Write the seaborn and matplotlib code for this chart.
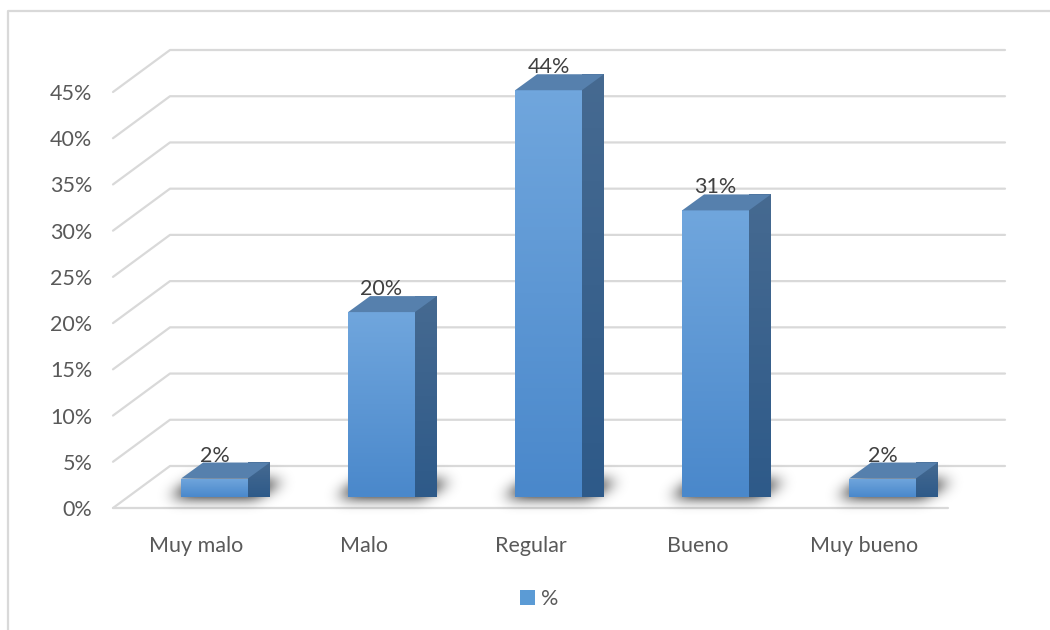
import numpy as np
import pandas as pd
import matplotlib
matplotlib.use("Agg")
import matplotlib.pyplot as plt
import seaborn as sns
from matplotlib.transforms import ScaledTranslation, IdentityTransform
from matplotlib.patches import Polygon, Rectangle
from matplotlib.lines import Line2D
from matplotlib.path import Path
from matplotlib.colors import LinearSegmentedColormap

# --- data -------------------------------------------------------------
categories = ["Muy malo", "Malo", "Regular", "Bueno", "Muy bueno"]
percentages = [2, 20, 44, 31, 2]
tick_values = [0, 5, 10, 15, 20, 25, 30, 35, 40, 45]
tick_labels = [f"{v}%" for v in tick_values]
series_label = "%"

# --- style ------------------------------------------------------------
W, H, DPI = 1050, 630, 100
WALL_DEPTH = (57, 42)   # pixel offset from front plane to back wall
BAR_FRONT = (18, 11)    # pixel offset of the bars' front faces
BAR_DEPTH = (22, 16)    # pixel depth of each bar

GRID = "#d9d9d9"
TEXT = "#595959"
LABEL = "#404040"
FRONT_TOP, FRONT_BOTTOM = "#70a6dd", "#4a88cb"
SIDE_TOP, SIDE_BOTTOM = "#466a91", "#2e5a89"
TOP_FACE = "#5680ad"
FS = 15.5

sns.set_theme(style="white")
plt.rcParams["font.family"] = ["Lato", "DejaVu Sans"]

df = pd.DataFrame({"categoria": categories, "porcentaje": percentages})

fig = plt.figure(figsize=(W / DPI, H / DPI), dpi=DPI, facecolor="white")
ax = fig.add_axes([113 / W, 122 / H, 835 / W, 416 / H])
ax.set_facecolor("none")

sns.barplot(data=df, x="categoria", y="porcentaje", width=0.4,
            color=FRONT_BOTTOM, saturation=1, errorbar=None, ax=ax, zorder=3)

XLIM, YLIM = (-0.5, len(categories) - 0.5), (0, 45)


def lock_limits():
    ax.set_xlim(*XLIM)
    ax.set_ylim(*YLIM)
    ax.set_autoscale_on(False)


lock_limits()


def shift(dx, dy):
    return ax.transData + ScaledTranslation(dx / DPI, dy / DPI, fig.dpi_scale_trans)


def to_px(x, y, *offsets):
    p = ax.transData.transform((x, y)).astype(float)
    for o in offsets:
        p = p + np.asarray(o, float)
    return p


ident = IdentityTransform()
front_tr = shift(*BAR_FRONT)
front_cmap = LinearSegmentedColormap.from_list("front", [FRONT_BOTTOM, FRONT_TOP])
side_cmap = LinearSegmentedColormap.from_list("side", [SIDE_BOTTOM, SIDE_TOP])
vgrad = np.linspace(1, 0, 128).reshape(-1, 1)

bars = list(ax.patches)
geom = []
for patch in bars:
    patch.set_transform(front_tr)
    patch.set_edgecolor("none")
    patch.set_clip_on(False)
    x0, w, h = patch.get_x(), patch.get_width(), patch.get_height()
    geom.append((x0, x0 + w, h))
    im = ax.imshow(vgrad, cmap=front_cmap, extent=(x0, x0 + w, 0, h),
                   aspect="auto", origin="upper", transform=front_tr,
                   zorder=3.1, interpolation="bilinear")
    im.set_clip_path(patch)

lock_limits()

# --- walls: back gridlines + left side diagonals + floor edge -----------
for t in tick_values:
    a = to_px(XLIM[0], t)
    b = to_px(XLIM[0], t, WALL_DEPTH)
    c = to_px(XLIM[1], t, WALL_DEPTH)
    ax.add_line(Line2D([a[0], b[0], c[0]], [a[1], b[1], c[1]], transform=ident,
                       color=GRID, lw=1.6, zorder=0.5, clip_on=False))
a, c = to_px(XLIM[0], 0), to_px(XLIM[1], 0)
ax.add_line(Line2D([a[0], c[0]], [a[1], c[1]], transform=ident,
                   color=GRID, lw=1.6, zorder=0.5, clip_on=False))

# --- soft shadows on the floor -----------------------------------------
yy, xx = np.mgrid[0:H, 0:W] + 0.5
pts = np.column_stack([xx.ravel(), yy.ravel()])
mask = np.zeros(H * W)
for x0, x1, h in geom:
    fl = to_px(x0, 0, BAR_FRONT) + (-12, 0)
    fr = to_px(x1, 0, BAR_FRONT) + (6, 0)
    br = to_px(x1, 0, BAR_FRONT, BAR_DEPTH) + (14, 0)
    bl = to_px(x0, 0, BAR_FRONT, BAR_DEPTH) + (-8, 0)
    mask = np.maximum(mask, Path([fl, fr, br, bl]).contains_points(pts).astype(float))
mask = mask.reshape(H, W)


def blur(a, sigma):
    r = int(3 * sigma)
    k = np.exp(-0.5 * (np.arange(-r, r + 1) / sigma) ** 2)
    k /= k.sum()
    a = np.apply_along_axis(lambda m: np.convolve(m, k, mode="same"), 0, a)
    return np.apply_along_axis(lambda m: np.convolve(m, k, mode="same"), 1, a)


soft = blur(mask, 7.0)
shadow = np.zeros((H, W, 4))
shadow[..., 3] = np.clip(soft * 1.3, 0, 1) * 0.82
ax.imshow(shadow, extent=(0, W, 0, H), origin="lower", transform=ident,
          zorder=1, clip_on=False, interpolation="nearest")
lock_limits()

# --- side and top faces ------------------------------------------------
for x0, x1, h in geom:
    side = np.array([to_px(x1, 0, BAR_FRONT), to_px(x1, h, BAR_FRONT),
                     to_px(x1, h, BAR_FRONT, BAR_DEPTH), to_px(x1, 0, BAR_FRONT, BAR_DEPTH)])
    side_patch = Polygon(side, closed=True, transform=ident, facecolor=SIDE_BOTTOM,
                         edgecolor="none", zorder=3, clip_on=False)
    ax.add_patch(side_patch)
    lo, hi = side.min(axis=0), side.max(axis=0)
    im = ax.imshow(vgrad, cmap=side_cmap, extent=(lo[0], hi[0], lo[1], hi[1]),
                   aspect="auto", origin="upper", transform=ident, zorder=3.05,
                   interpolation="bilinear", clip_on=False)
    im.set_clip_path(side_patch)
    top = [to_px(x0, h, BAR_FRONT), to_px(x1, h, BAR_FRONT),
           to_px(x1, h, BAR_FRONT, BAR_DEPTH), to_px(x0, h, BAR_FRONT, BAR_DEPTH)]
    ax.add_patch(Polygon(top, closed=True, transform=ident, facecolor=TOP_FACE,
                         edgecolor="none", zorder=3.2, clip_on=False))
lock_limits()

# --- value labels ------------------------------------------------------
label_tr = shift(BAR_FRONT[0], BAR_FRONT[1] + 17)
for (x0, x1, h), v in zip(geom, percentages):
    ax.text((x0 + x1) / 2, h, f"{v}%", transform=label_tr, ha="center",
            va="baseline", fontsize=FS, color=LABEL, zorder=5, clip_on=False)

# --- axes text ---------------------------------------------------------
ax.set_yticks(tick_values, tick_labels)
ax.tick_params(axis="y", length=0, pad=15, labelsize=FS, labelcolor=TEXT)
ax.tick_params(axis="x", length=0, pad=20, labelsize=FS, labelcolor=TEXT)
ax.set_xlabel("")
ax.set_ylabel("")
sns.despine(ax=ax, left=True, bottom=True)
ax.grid(False)
lock_limits()

handle = Rectangle((0, 0), 1, 1, facecolor="#5b9bd5", edgecolor="none")
fig.legend([handle], [series_label], loc="center", bbox_to_anchor=(539 / W, 1 - 599 / H),
           frameon=False, handlelength=0.7, handleheight=0.7, handletextpad=0.3,
           fontsize=FS, labelcolor=TEXT)

# chart frame
fig.add_artist(Line2D([8 / W, 8 / W, 1], [0, 1 - 11 / H, 1 - 11 / H],
                      transform=fig.transFigure, color=GRID, lw=1.6))

fig.savefig("out.png", dpi=DPI, facecolor="white")
